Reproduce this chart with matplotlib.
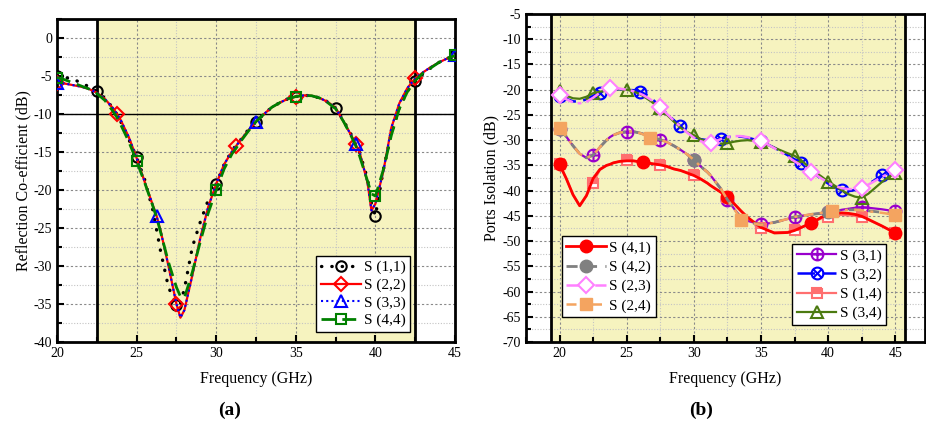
import numpy as np
import matplotlib
matplotlib.use("Agg")
import matplotlib.pyplot as plt
from matplotlib.path import Path
from matplotlib.ticker import MultipleLocator

plt.rcParams['font.family'] = ['Liberation Serif', 'DejaVu Serif']
plt.rcParams['axes.unicode_minus'] = False

# ---------------- (a) reflection coefficients ----------------
freq_a = [20, 20.5, 21, 21.5, 22, 22.5, 23, 23.5, 23.75, 24, 24.5, 25, 25.5, 26,
          26.25, 26.5, 27, 27.5, 27.75, 28, 28.5, 29, 29.5, 30, 30.5, 31, 31.25,
          31.5, 32, 32.5, 33, 33.5, 34, 34.5, 35, 35.5, 36, 36.5, 37, 37.5, 38,
          38.5, 38.75, 39, 39.5, 39.75, 40, 40.5, 41, 41.5, 42, 42.5, 43, 43.5,
          44, 44.5, 45]
s11 = [-5.0, -5.2, -5.4, -5.9, -6.4, -7.0, -7.9, -9.2, -10.0, -11.0, -13.3, -15.7,
       -18.6, -22.5, -25.2, -28.0, -32.8, -35.1, -34.9, -33.0, -27.5, -24.2, -21.3,
       -19.2, -16.6, -14.8, -14.1, -13.5, -12.1, -11.0, -10.0, -9.1, -8.5, -8.0,
       -7.7, -7.55, -7.6, -7.9, -8.4, -9.2, -10.9, -12.8, -14.0, -15.0, -18.5,
       -21.8, -23.4, -17.3, -12.5, -9.2, -7.0, -5.7, -4.7, -3.9, -3.2, -2.7, -2.3]
s22 = [-5.9, -6.0, -6.2, -6.4, -6.7, -7.2, -8.0, -9.2, -9.95, -10.8, -13.0, -15.8,
       -18.9, -21.9, -23.4, -25.3, -30.0, -35.0, -36.8, -35.8, -31.2, -26.3, -22.2,
       -19.2, -16.6, -14.9, -14.2, -13.5, -12.2, -11.0, -10.0, -9.1, -8.5, -8.0,
       -7.7, -7.55, -7.6, -7.9, -8.4, -9.2, -11.0, -12.9, -14.0, -15.0, -19.0,
       -22.7, -21.8, -17.5, -11.8, -8.6, -6.6, -5.3, -4.5, -3.8, -3.2, -2.7, -2.3]
s33 = list(s22)  # lies on top of S(2,2)
s44 = [-5.2, -5.5, -5.9, -6.3, -6.7, -7.3, -8.2, -9.6, -10.4, -11.4, -13.6, -16.2,
       -19.0, -22.0, -23.6, -25.5, -29.5, -32.8, -34.0, -34.2, -30.8, -26.8, -23.0,
       -20.0, -17.2, -15.2, -14.5, -13.7, -12.3, -11.0, -10.0, -9.1, -8.5, -8.0,
       -7.7, -7.55, -7.6, -7.9, -8.5, -9.3, -11.0, -13.0, -14.1, -15.5, -18.8,
       -20.5, -20.8, -17.3, -12.8, -9.3, -7.1, -5.6, -4.6, -3.9, -3.2, -2.7, -2.3]
mk_s11 = [20, 22.5, 25, 27.5, 30, 32.5, 35, 37.5, 40, 42.5, 45]
mk_s22 = [20, 23.75, 27.5, 31.25, 35, 38.75, 42.5]
mk_s33 = [20, 26.25, 32.5, 38.75, 45]
mk_s44 = [20, 25, 30, 35, 40, 45]

# ---------------- (b) port isolation ----------------
freq_b = [20, 20.5, 21, 21.5, 22, 22.5, 23, 23.5, 23.75, 24, 24.5, 25, 25.5, 26,
          26.25, 26.75, 27.5, 28, 28.5, 29, 29.5, 30, 30.5, 31, 31.25, 32, 32.5,
          33, 33.5, 34, 35, 36, 37, 37.5, 38, 38.75, 39.5, 40, 40.25, 41, 41.5,
          42, 42.5, 43, 44, 44.5, 45]
s41 = [-34.8, -37.6, -40.8, -43.0, -41.0, -37.6, -35.8, -35.0, -34.8, -34.5, -34.2,
       -34.1, -34.1, -34.3, -34.4, -34.6, -34.9, -35.2, -35.7, -36.0, -36.5, -37.0,
       -37.7, -38.5, -39.0, -40.3, -41.2, -42.6, -44.0, -45.3, -47.3, -48.4, -48.3,
       -47.9, -47.3, -46.4, -45.3, -44.8, -44.6, -44.4, -44.5, -44.7, -45.1, -45.7,
       -47.0, -47.7, -48.4]
s14 = [-34.8, -37.6, -40.8, -43.0, -41.0, -38.4, -35.9, -35.0, -34.8, -34.5, -34.2,
       -34.0, -34.1, -34.3, -34.4, -34.6, -35.0, -35.3, -35.7, -36.0, -36.4, -36.9,
       -37.6, -38.5, -39.0, -40.3, -41.2, -42.6, -44.0, -45.3, -47.5, -48.3, -48.2,
       -47.8, -47.3, -46.4, -45.5, -45.2, -45.0, -44.8, -44.9, -45.0, -45.3, -45.8,
       -47.0, -47.7, -48.4]
s31 = [-27.7, -29.3, -31.1, -32.7, -33.5, -33.0, -31.4, -30.0, -29.4, -29.0, -28.5,
       -28.3, -28.3, -28.6, -28.8, -29.3, -29.9, -30.4, -31.1, -31.9, -32.8, -33.9,
       -35.2, -36.3, -37.0, -39.6, -41.8, -43.6, -45.3, -46.0, -46.7, -46.3, -45.6,
       -45.2, -45.0, -44.7, -44.5, -44.3, -44.2, -43.8, -43.6, -43.4, -43.3, -43.4,
       -43.7, -43.9, -44.1]
s42 = [-27.7, -29.3, -31.1, -32.7, -33.5, -33.0, -31.4, -30.0, -29.4, -29.0, -28.5,
       -28.3, -28.3, -28.6, -28.8, -29.3, -29.9, -30.4, -31.1, -31.9, -32.8, -34.0,
       -35.2, -36.3, -37.0, -39.6, -41.8, -43.6, -45.4, -46.2, -46.8, -46.3, -45.6,
       -45.2, -45.0, -44.7, -44.5, -44.3, -44.2, -43.9, -43.8, -43.8, -43.8, -44.0,
       -44.3, -44.5, -44.7]
s24 = [-27.6, -29.3, -31.1, -32.7, -33.5, -33.0, -31.4, -30.0, -29.4, -29.0, -28.5,
       -28.3, -28.3, -28.6, -28.9, -29.5, -29.9, -30.4, -31.1, -31.9, -32.8, -33.9,
       -35.2, -36.3, -37.0, -39.6, -41.8, -43.6, -45.8, -46.3, -46.8, -46.3, -45.6,
       -45.2, -45.0, -44.7, -44.4, -44.2, -44.0, -43.9, -43.8, -43.8, -43.9, -44.1,
       -44.4, -44.6, -44.8]
s34 = [-20.3, -21.2, -21.7, -21.8, -21.4, -20.7, -20.4, -20.2, -20.1, -20.0, -19.9,
       -20.0, -20.3, -20.9, -21.3, -22.2, -23.7, -25.0, -26.3, -27.5, -28.4, -29.0,
       -29.8, -30.3, -30.5, -30.7, -30.6, -30.3, -30.1, -30.0, -30.3, -31.5, -32.6,
       -33.1, -34.0, -35.8, -37.2, -38.2, -38.6, -39.9, -40.7, -41.2, -41.4, -40.6,
       -38.3, -37.3, -36.5]
s32 = [-21.2, -21.8, -22.3, -22.4, -21.9, -21.2, -20.7, -20.3, -20.1, -20.0, -19.9,
       -20.0, -20.1, -20.4, -20.7, -21.5, -23.3, -24.8, -26.0, -27.2, -28.4, -29.3,
       -29.8, -30.0, -30.1, -29.7, -29.4, -29.3, -29.3, -29.5, -30.2, -31.5, -33.0,
       -33.8, -34.6, -36.2, -37.7, -38.6, -39.0, -39.9, -40.1, -39.9, -39.5, -38.7,
       -37.0, -36.4, -36.0]
s23 = [-21.1, -21.9, -22.5, -22.7, -22.4, -21.6, -20.6, -19.8, -19.6, -19.6, -19.8,
       -20.0, -20.3, -20.8, -21.1, -21.9, -23.4, -24.8, -26.1, -27.3, -28.5, -29.5,
       -30.2, -30.6, -30.6, -29.8, -29.4, -29.2, -29.2, -29.4, -30.1, -31.6, -33.3,
       -34.2, -35.0, -36.3, -37.6, -38.4, -38.8, -39.5, -39.7, -39.7, -39.4, -38.8,
       -37.3, -36.6, -36.0]
mk_s41 = [20, 26.25, 32.5, 38.75, 45]
mk_s42 = [20, 30, 40]
mk_s23 = [20, 23.75, 27.5, 31.25, 35, 38.75, 42.5, 45]
mk_s24 = [20, 26.75, 33.5, 40.25, 45]
mk_s31 = [20, 22.5, 25, 27.5, 30, 32.5, 35, 37.5, 40, 42.5, 45]
mk_s32 = [20, 23, 26, 29, 32, 35, 38, 41, 44]
mk_s14 = [20, 22.5, 25, 27.5, 30, 32.5, 35, 37.5, 40, 42.5, 45]
mk_s34 = [20, 22.5, 25, 27.5, 30, 32.5, 35, 37.5, 40, 42.5, 45]


def mark_idx(freq, marks):
    f = np.asarray(freq)
    return [int(np.argmin(np.abs(f - m))) for m in marks]


# circle with plus / circle with cross markers
circ = Path.unit_circle()
plus = Path([[-1, 0], [1, 0], [0, -1], [0, 1]],
            [Path.MOVETO, Path.LINETO, Path.MOVETO, Path.LINETO])
d = 0.707
cross = Path([[-d, -d], [d, d], [-d, d], [d, -d]],
             [Path.MOVETO, Path.LINETO, Path.MOVETO, Path.LINETO])
oplus = Path.make_compound_path(circ, plus)
otimes = Path.make_compound_path(circ, cross)

SHADE = '#f6f3bf'


def style_axes(ax):
    ax.set_axisbelow(True)
    ax.grid(which='major', ls=(0, (2, 2)), color='#8a8a8a', lw=0.8)
    ax.grid(which='minor', ls=(0, (1, 1.5)), color='#c4c4c4', lw=0.8)
    ax.tick_params(which='both', direction='in', top=False, right=False,
                   labelsize=10, width=1.5)
    ax.tick_params(which='major', length=5)
    ax.tick_params(which='minor', length=3.5)
    for sp in ax.spines.values():
        sp.set_linewidth(2)
    ax.set_xlabel('Frequency (GHz)', fontsize=11.5, labelpad=8)


fig = plt.figure(figsize=(9.26, 4.32), dpi=100)

# ---------------- panel (a) ----------------
ax1 = fig.add_axes([0.0616, 0.2083, 0.4298, 0.7477])
ax1.axvspan(22.5, 42.5, color=SHADE, zorder=0, lw=0)
ax1.axvline(22.5, color='black', lw=2, zorder=1)
ax1.axvline(42.5, color='black', lw=2, zorder=1)
ax1.axhline(-10, color='black', lw=1, zorder=1)

ax1.plot(freq_a, s11, color='black', ls=(0, (0.1, 3.0)), lw=2.4,
         dash_capstyle='round', marker='o', ms=7.5, mfc='none', mew=1.5,
         markevery=mark_idx(freq_a, mk_s11), label='S (1,1)', zorder=3)
ax1.plot(freq_a, s22, color='red', ls='-', lw=1.6, marker='D', ms=7,
         mfc='none', mew=1.5, markevery=mark_idx(freq_a, mk_s22),
         label='S (2,2)', zorder=4)
ax1.plot(freq_a, s33, color='blue', ls=(0, (1, 1.5)), lw=1.5, marker='^',
         ms=8.5, mfc='none', mew=1.5, markevery=mark_idx(freq_a, mk_s33),
         label='S (3,3)', zorder=5)
ax1.plot(freq_a, s44, color='#008000', ls=(0, (5, 2.5)), lw=2, marker='s',
         ms=7.5, mfc='none', mew=1.5, markevery=mark_idx(freq_a, mk_s44),
         label='S (4,4)', zorder=6)

ax1.set_xlim(20, 45)
ax1.set_ylim(-40, 2.5)
ax1.xaxis.set_major_locator(MultipleLocator(5))
ax1.xaxis.set_minor_locator(MultipleLocator(2.5))
ax1.yaxis.set_major_locator(MultipleLocator(5))
ax1.yaxis.set_minor_locator(MultipleLocator(2.5))
style_axes(ax1)
ax1.set_ylabel('Reflection Co-efficient (dB)', fontsize=11.5, labelpad=2)
leg = ax1.legend(loc='lower right', bbox_to_anchor=(0.887, 0.031),
                 borderaxespad=0, fontsize=11, handlelength=2.6,
                 handletextpad=0.2, labelspacing=0.25, borderpad=0.3,
                 fancybox=False, framealpha=1, edgecolor='black')
leg.get_frame().set_linewidth(1)

# ---------------- panel (b) ----------------
ax2 = fig.add_axes([0.568, 0.2083, 0.4309, 0.7593])
ax2.axvspan(19.4, 45.75, color=SHADE, zorder=0, lw=0)
ax2.axvline(19.4, color='black', lw=2, zorder=1)
ax2.axvline(45.75, color='black', lw=2, zorder=1)

h31, = ax2.plot(freq_b, s31, color='#9900cc', ls='-', lw=1.6, marker=oplus,
                ms=8.5, mfc='none', mew=1.5,
                markevery=mark_idx(freq_b, mk_s31), label='S (3,1)', zorder=3)
h32, = ax2.plot(freq_b, s32, color='#0000ff', ls=(0, (7, 3)), lw=1.8,
                marker=otimes, ms=8.5, mfc='none', mew=1.5,
                markevery=mark_idx(freq_b, mk_s32), label='S (3,2)', zorder=3)
h14, = ax2.plot(freq_b, s14, color='#ff6f6f', ls='-', lw=1.6, marker='s',
                ms=7.5, mfc='#ff6f6f', mfcalt='white', fillstyle='top',
                mec='#ff6f6f', mew=1.5,
                markevery=mark_idx(freq_b, mk_s14), label='S (1,4)', zorder=3)
h34, = ax2.plot(freq_b, s34, color='#4b7a10', ls='-', lw=1.6, marker='^',
                ms=9, mfc='none', mew=1.5,
                markevery=mark_idx(freq_b, mk_s34), label='S (3,4)', zorder=4)
h41, = ax2.plot(freq_b, s41, color='red', ls='-', lw=2, marker='o', ms=9,
                mfc='red', mec='red',
                markevery=mark_idx(freq_b, mk_s41), label='S (4,1)', zorder=5)
h42, = ax2.plot(freq_b, s42, color='#808080', ls=(0, (4, 3)), lw=2,
                marker='o', ms=9, mfc='#808080', mec='#808080',
                markevery=mark_idx(freq_b, mk_s42), label='S (4,2)', zorder=5)
h23, = ax2.plot(freq_b, s23, color='#ff80ff', ls=(0, (6, 2, 1.5, 2)), lw=1.8,
                marker='D', ms=8, mfc='white', mew=1.5,
                markevery=mark_idx(freq_b, mk_s23), label='S (2,3)', zorder=5)
h24, = ax2.plot(freq_b, s24, color='#f4a460', ls=(0, (4, 2.5, 1.2, 2.5)),
                lw=1.8, marker='s', ms=8.5, mfc='#f4a460', mec='#f4a460',
                markevery=mark_idx(freq_b, mk_s24), label='S (2,4)', zorder=6)

ax2.set_xlim(17.5, 47.21)
ax2.set_ylim(-70, -5)
ax2.xaxis.set_major_locator(MultipleLocator(5))
ax2.xaxis.set_minor_locator(MultipleLocator(2.5))
ax2.yaxis.set_major_locator(MultipleLocator(5))
ax2.yaxis.set_minor_locator(MultipleLocator(2.5))
style_axes(ax2)
ax2.set_ylabel('Ports Isolation (dB)', fontsize=11.5, labelpad=2)

leg_kw = dict(borderaxespad=0, fontsize=11, handlelength=2.6,
              handletextpad=0.2, labelspacing=0.35, borderpad=0.3,
              fancybox=False, framealpha=1, edgecolor='black')
legA = ax2.legend(handles=[h41, h42, h23, h24], loc='lower left',
                  bbox_to_anchor=(0.090, 0.076), **leg_kw)
legA.get_frame().set_linewidth(1)
ax2.add_artist(legA)
legB = ax2.legend(handles=[h31, h32, h14, h34], loc='lower right',
                  bbox_to_anchor=(0.902, 0.052), **leg_kw)
legB.get_frame().set_linewidth(1)

fig.text(0.248, 0.04, '(a)', fontsize=14, fontweight='bold', ha='center')
fig.text(0.757, 0.04, '(b)', fontsize=14, fontweight='bold', ha='center')

fig.savefig('out.png', dpi=100)
